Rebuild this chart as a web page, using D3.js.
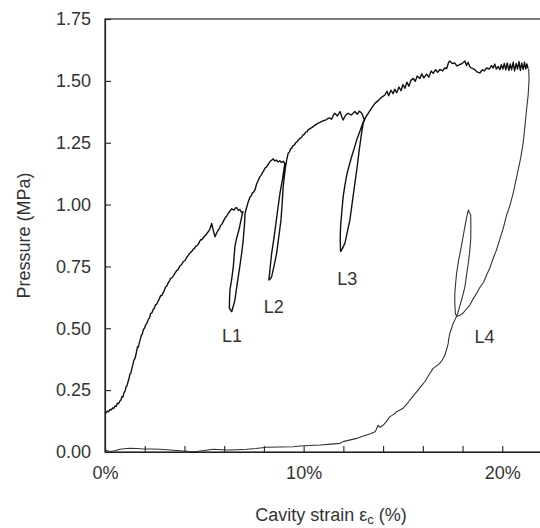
<!DOCTYPE html>
<html>
<head>
<meta charset="utf-8">
<script src="https://cdn.jsdelivr.net/npm/d3@7"></script>
<style>
  body { margin: 0; background: #fff; }
  text { font-family: "Liberation Sans", Arial, sans-serif; fill: #333; }
</style>
</head>
<body>
<div id="chart"></div>
<script>
// chart size
const width = 540;
const height = 528;
const margin = { top: 19, right: -2, bottom: 76, left: 105 };

// loading path with the unload/reload loops L1-L3 (strain %, pressure MPa)
const loadingCurve = [
  [0.00,0.160],[0.06,0.158],[0.12,0.165],[0.19,0.163],[0.25,0.172],[0.32,0.170],[0.38,0.178],[0.44,0.176],
  [0.50,0.186],[0.56,0.184],[0.62,0.197],[0.68,0.195],[0.75,0.206],[0.80,0.210],[0.85,0.224],[0.90,0.222],
  [0.96,0.240],[1.01,0.246],[1.06,0.264],[1.11,0.268],[1.17,0.287],[1.21,0.296],[1.25,0.314],[1.30,0.318],
  [1.34,0.334],[1.40,0.352],[1.45,0.370],[1.50,0.376],[1.56,0.394],[1.60,0.412],[1.64,0.426],[1.68,0.424],
  [1.73,0.442],[1.78,0.456],[1.83,0.472],[1.88,0.476],[1.93,0.495],[1.99,0.500],[2.05,0.514],[2.11,0.520],
  [2.18,0.536],[2.24,0.542],[2.30,0.560],[2.36,0.562],[2.43,0.577],[2.49,0.582],[2.55,0.596],[2.61,0.598],
  [2.68,0.611],[2.74,0.620],[2.80,0.632],[2.86,0.632],[2.93,0.644],[2.99,0.654],[3.05,0.667],[3.12,0.672],
  [3.19,0.685],[3.25,0.692],[3.30,0.702],[3.37,0.704],[3.44,0.712],[3.52,0.722],[3.60,0.732],[3.68,0.738],
  [3.77,0.752],[3.86,0.758],[3.95,0.770],[4.03,0.774],[4.11,0.786],[4.20,0.796],[4.28,0.805],[4.36,0.810],
  [4.44,0.820],[4.50,0.822],[4.57,0.832],[4.64,0.834],[4.70,0.840],[4.76,0.850],[4.82,0.858],[4.88,0.858],
  [4.95,0.866],[5.03,0.874],[5.10,0.880],[5.18,0.889],[5.28,0.900],[5.37,0.924],[5.45,0.897],[5.54,0.870],
  [5.62,0.885],[5.70,0.897],[5.76,0.903],[5.82,0.915],[5.88,0.920],[5.95,0.931],[6.02,0.942],[6.08,0.950],
  [6.14,0.955],[6.21,0.965],[6.30,0.975],[6.38,0.983],[6.50,0.978],[6.56,0.986],[6.63,0.988],[6.72,0.976],
  [6.79,0.980],[6.88,0.968],[6.94,0.972],
  // L1
  [6.84,0.935],[6.74,0.897],[6.62,0.862],[6.54,0.830],[6.50,0.790],[6.46,0.749],[6.38,0.700],[6.29,0.655],
  [6.27,0.618],[6.26,0.581],[6.38,0.567],[6.46,0.590],[6.54,0.614],[6.62,0.660],[6.71,0.709],[6.80,0.757],
  [6.88,0.803],[6.95,0.850],[7.00,0.897],[7.03,0.930],[7.05,0.965],
  [7.12,0.985],[7.20,1.008],[7.30,1.031],[7.36,1.036],[7.42,1.047],[7.48,1.050],[7.55,1.059],[7.62,1.080],
  [7.70,1.095],[7.80,1.113],[7.86,1.118],[7.92,1.128],[7.98,1.135],[8.05,1.147],[8.12,1.150],[8.18,1.158],
  [8.30,1.173],[8.40,1.180],[8.47,1.185],[8.55,1.176],[8.63,1.180],[8.72,1.172],[8.80,1.177],[8.88,1.170],
  [8.97,1.175],[9.05,1.166],
  // L2
  [8.95,1.110],[8.81,1.046],[8.68,0.970],[8.56,0.897],[8.48,0.850],[8.39,0.803],[8.32,0.750],[8.25,0.695],
  [8.32,0.700],[8.39,0.709],[8.52,0.755],[8.64,0.803],[8.75,0.870],[8.86,0.938],[8.92,1.005],[8.97,1.072],
  [9.03,1.115],[9.09,1.153],
  [9.15,1.182],[9.22,1.207],[9.28,1.212],[9.34,1.224],[9.40,1.228],[9.46,1.237],[9.53,1.240],[9.60,1.250],
  [9.66,1.252],[9.73,1.261],[9.85,1.270],[9.90,1.272],[9.96,1.281],[10.03,1.284],[10.10,1.293],[10.17,1.294],
  [10.23,1.302],[10.38,1.310],[10.45,1.313],[10.52,1.318],[10.67,1.326],[10.82,1.332],[10.97,1.338],[11.12,1.342],
  [11.27,1.350],[11.41,1.345],[11.50,1.362],[11.57,1.369],[11.70,1.358],[11.83,1.376],[11.92,1.355],[11.99,1.342],
  [12.10,1.360],[12.24,1.369],[12.40,1.362],[12.58,1.376],[12.70,1.365],[12.80,1.378],[12.92,1.370],[13.05,1.345],
  // L3
  [12.85,1.300],[12.67,1.261],[12.55,1.228],[12.42,1.194],[12.30,1.160],[12.19,1.127],[12.08,1.080],[11.99,1.032],
  [11.92,0.970],[11.86,0.911],[11.84,0.860],[11.86,0.810],[11.95,0.822],[12.08,0.844],[12.20,0.890],[12.33,0.938],
  [12.45,1.010],[12.58,1.086],[12.70,1.155],[12.80,1.221],[12.90,1.280],[13.00,1.329],
  [13.12,1.352],[13.25,1.369],[13.42,1.390],[13.59,1.409],[13.75,1.420],[13.90,1.432],[14.09,1.443],[14.20,1.458],
  [14.28,1.440],[14.40,1.462],[14.50,1.448],[14.59,1.466],[14.68,1.452],[14.80,1.475],[14.90,1.460],[15.00,1.485],
  [15.10,1.470],[15.20,1.495],[15.30,1.478],[15.40,1.502],[15.52,1.510],[15.62,1.498],[15.72,1.520],[15.85,1.510],
  [15.95,1.528],[16.05,1.512],[16.19,1.527],[16.30,1.515],[16.42,1.540],[16.52,1.530],[16.65,1.545],[16.75,1.535],
  [16.86,1.546],[17.00,1.540],[17.10,1.552],[17.20,1.550],[17.30,1.575],[17.36,1.580],[17.48,1.570],[17.61,1.572],
  [17.72,1.560],[17.85,1.566],[17.98,1.570],[18.12,1.580],[18.20,1.562],[18.28,1.575],[18.37,1.556],[18.50,1.550],
  [18.62,1.545],[18.75,1.535],[18.87,1.532],[19.00,1.545],[19.10,1.540],[19.21,1.552],[19.35,1.548],[19.45,1.562],
  [19.54,1.552],[19.62,1.568],[19.70,1.548],[19.80,1.558],[19.88,1.545],[19.95,1.565],[20.03,1.548],[20.10,1.570],
  [20.18,1.545],[20.25,1.572],[20.33,1.542],[20.40,1.568],[20.47,1.545],[20.55,1.575],[20.62,1.540],[20.70,1.570],
  [20.77,1.548],[20.84,1.578],[20.91,1.542],[20.98,1.572],[21.05,1.546],[21.12,1.575],[21.18,1.548],[21.24,1.568],
  [21.30,1.550]
];

// final unloading, with the reload loop L4
const unloadingCurve = [
  [21.33,1.548],[21.35,1.504],[21.30,1.440],[21.22,1.382],[21.14,1.315],[21.05,1.248],[20.93,1.190],[20.80,1.140],
  [20.68,1.095],[20.55,1.046],[20.38,0.995],[20.22,0.958],[20.05,0.905],[19.88,0.860],[19.70,0.815],[19.54,0.782],
  [19.38,0.745],[19.21,0.715],[19.05,0.685],[18.87,0.665],[18.70,0.640],[18.54,0.620],[18.37,0.594],[18.20,0.578],
  [18.03,0.562],[17.87,0.553],[17.70,0.548],
  // L4
  [17.64,0.560],[17.61,0.600],[17.61,0.641],[17.66,0.690],[17.70,0.722],[17.78,0.765],[17.87,0.803],[17.95,0.835],
  [18.00,0.857],[18.06,0.885],[18.12,0.911],[18.20,0.945],[18.29,0.978],[18.34,0.968],[18.41,0.960],[18.42,0.905],
  [18.41,0.857],[18.36,0.810],[18.29,0.763],[18.20,0.715],[18.12,0.668],[18.02,0.635],[17.90,0.601],[17.80,0.572],
  [17.73,0.554],
  [17.62,0.535],[17.53,0.520],[17.45,0.500],[17.36,0.480],[17.30,0.455],[17.28,0.439],[17.20,0.415],[17.11,0.392],
  [16.98,0.372],[16.86,0.359],[16.70,0.348],[16.52,0.338],[16.36,0.318],[16.22,0.300],[16.10,0.284],[15.94,0.268],
  [15.77,0.251],[15.55,0.230],[15.35,0.210],[15.18,0.192],[15.01,0.177],[14.85,0.170],[14.68,0.163],[14.50,0.150],
  [14.34,0.143],[14.18,0.125],[14.01,0.109],[13.85,0.100],[13.75,0.108],[13.65,0.090],[13.59,0.082],[13.40,0.075],
  [13.17,0.069],[12.90,0.062],[12.67,0.055],[12.30,0.048],[11.99,0.042],[11.83,0.035],[11.40,0.032],[10.82,0.028],
  [10.30,0.026],[9.81,0.024],[9.48,0.021],[8.80,0.020],[8.14,0.019],[7.60,0.014],[7.13,0.011],[6.60,0.009],
  [6.12,0.008],[5.45,0.011],[5.00,0.006],[4.61,0.002],[4.20,0.003],[3.77,0.005],[3.30,0.008],[2.77,0.011],
  [2.30,0.012],[1.93,0.012],[1.60,0.014],[1.26,0.015],[0.95,0.013],[0.75,0.011],[0.50,0.005],[0.25,0.002],
  [0.00,0.008]
];

// axis ticks
const yTicks = [0, 0.25, 0.5, 0.75, 1.0, 1.25, 1.5, 1.75];
const xTicks = [0, 2, 4, 6, 8, 10, 12, 14, 16, 18, 20];
const xTickLabels = [0, 10, 20];

// loop labels (strain %, pressure MPa)
const loopNames = ["L1", "L2", "L3", "L4"];
const loopStrain = [6.4, 8.5, 12.2, 19.1];
const loopPressure = [0.47, 0.587, 0.70, 0.465];

const svg = d3.select("#chart")
              .append("svg")
              .attr("width", width)
              .attr("height", height);

const x = d3.scaleLinear().domain([0, 22]).range([margin.left, width - margin.right]);
const y = d3.scaleLinear().domain([0, 1.75]).range([height - margin.bottom, margin.top]);

// frame
svg.append("rect")
   .attr("x", x(0))
   .attr("y", y(1.75))
   .attr("width", x(22) - x(0))
   .attr("height", y(0) - y(1.75))
   .attr("fill", "none")
   .attr("stroke", "#222")
   .attr("stroke-width", 1.2);

// y axis: ticks point inward
svg.append("g")
   .attr("transform", `translate(${x(0)},0)`)
   .call(d3.axisLeft(y).tickValues(yTicks).tickSizeInner(-6).tickSizeOuter(0)
           .tickPadding(14).tickFormat(d3.format(".2f")));

// x axis: minor ticks every 2%, labels every 10%
svg.append("g")
   .attr("transform", `translate(0,${y(0)})`)
   .call(d3.axisBottom(x).tickValues(xTicks).tickSizeInner(-6).tickSizeOuter(0)
           .tickPadding(14).tickFormat(d => xTickLabels.includes(d) ? d + "%" : ""));

svg.selectAll(".domain").attr("stroke", "#222").attr("stroke-width", 1.2);
svg.selectAll(".tick line").attr("stroke", "#222").attr("stroke-width", 1.1);
svg.selectAll(".tick text")
   .attr("font-size", "18px")
   .attr("font-family", "'Liberation Sans', Arial, sans-serif")
   .attr("fill", "#333");

const line = d3.line()
               .x(d => x(d[0]))
               .y(d => y(d[1]));

svg.append("path")
   .datum(unloadingCurve)
   .attr("d", line)
   .attr("fill", "none")
   .attr("stroke", "#333")
   .attr("stroke-width", 1.1)
   .attr("stroke-linejoin", "round");

svg.append("path")
   .datum(loadingCurve)
   .attr("d", line)
   .attr("fill", "none")
   .attr("stroke", "#111")
   .attr("stroke-width", 1.4)
   .attr("stroke-linejoin", "round");

// loop labels
svg.selectAll(".loop-label")
   .data(loopNames)
   .enter().append("text")
   .attr("class", "loop-label")
   .attr("x", (d, i) => x(loopStrain[i]))
   .attr("y", (d, i) => y(loopPressure[i]))
   .attr("text-anchor", "middle")
   .attr("dominant-baseline", "central")
   .attr("font-size", "18px")
   .text(d => d);

// axis titles
svg.append("text")
   .attr("transform", `translate(30,${(y(0) + y(1.75)) / 2}) rotate(-90)`)
   .attr("text-anchor", "middle")
   .attr("font-size", "18px")
   .text("Pressure (MPa)");

const xTitle = svg.append("text")
   .attr("x", 331)
   .attr("y", 521)
   .attr("text-anchor", "middle")
   .attr("font-size", "18px");
xTitle.append("tspan").text("Cavity strain ε");
xTitle.append("tspan").attr("font-size", "13px").attr("dy", 3).text("c");
xTitle.append("tspan").attr("dy", -3).text(" (%)");
</script>
</body>
</html>
